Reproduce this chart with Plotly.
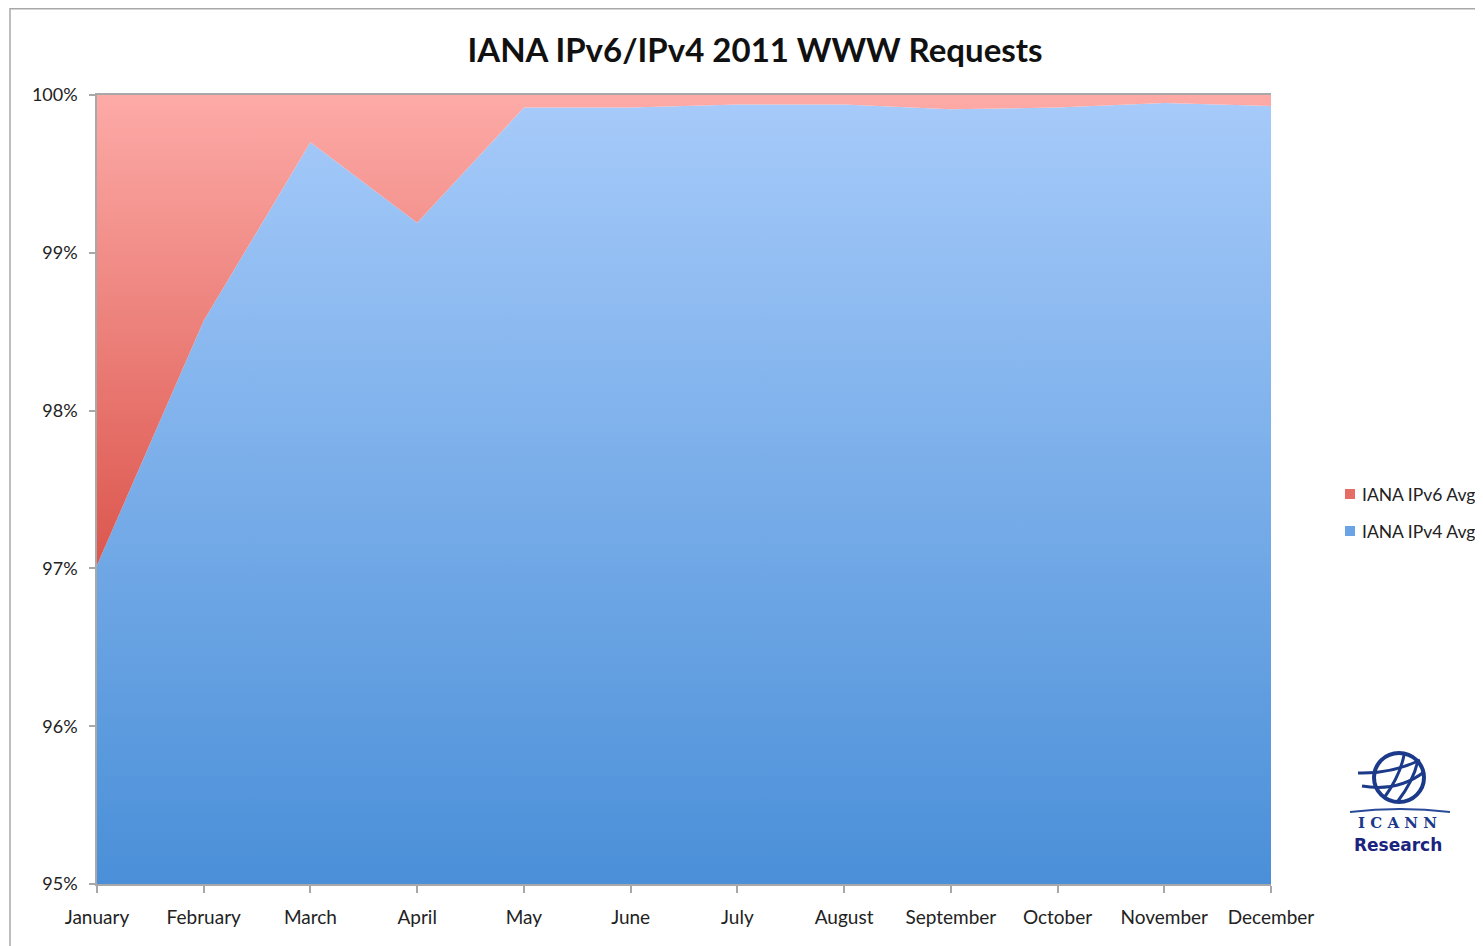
import plotly.graph_objects as go

months = ["January", "February", "March", "April", "May", "June", "July",
          "August", "September", "October", "November", "December"]
ipv4_avg = [97.02, 98.57, 99.70, 99.19, 99.92, 99.92, 99.94, 99.94, 99.91, 99.92, 99.95, 99.93]
ipv6_avg = [round(100 - v, 2) for v in ipv4_avg]
y_ticks = [95, 96, 97, 98, 99, 100]
y_tick_labels = ["95%", "96%", "97%", "98%", "99%", "100%"]
legend_names = ["IANA IPv6 Avg", "IANA IPv4 Avg"]
legend_colors = ["#e56d66", "#6aa3e6"]

FONT = "Lato"
BLUE_SCALE = [[0, "#4a8fd8"], [1, "#a7cbfa"]]
RED_SCALE = [[0, "#db564d"], [1, "#fdaaa7"]]

fig = go.Figure()
fig.add_trace(go.Scatter(
    x=months, y=ipv4_avg, name="IANA IPv4 Avg", mode="none",
    stackgroup="one", showlegend=False,
    fillgradient=dict(type="vertical", start=95, stop=100, colorscale=BLUE_SCALE),
    fillcolor="#6fa3e3",
))
fig.add_trace(go.Scatter(
    x=months, y=ipv6_avg, name="IANA IPv6 Avg", mode="none",
    stackgroup="one", showlegend=False,
    fillgradient=dict(type="vertical", start=97, stop=100, colorscale=RED_SCALE),
    fillcolor="#e87a74",
))

# Page is offset by the browser's 8px body margin
OFF = 8
W, H = 1483 - OFF, 946 - OFF
L, R, T, B = 97 - OFF, 212, 95 - OFF, 62
pw, ph = W - L - R, H - T - B


def px(x):  # reference screen x -> paper
    return (x - OFF - L) / pw


def py(y):  # reference screen y -> paper
    return (H - B - (y - OFF)) / ph


shapes = [
    dict(type="rect", xref="paper", yref="paper",
         x0=px(10), x1=px(1500), y0=py(970), y1=py(8.8),
         line=dict(color="#a8a8a8", width=1.5), fillcolor="rgba(0,0,0,0)", layer="below"),
]
annotations = []

# legend (swatches + labels)
for i, (name, col) in enumerate(zip(legend_names, legend_colors)):
    cy = 494 + 37 * i
    shapes.append(dict(type="rect", xref="paper", yref="paper",
                       x0=px(1345), x1=px(1355), y0=py(cy + 5), y1=py(cy - 5),
                       line=dict(width=0), fillcolor=col))
    annotations.append(dict(text=name, xref="paper", yref="paper", x=px(1360), y=py(cy),
                            showarrow=False, xanchor="left", yanchor="middle",
                            font=dict(family=FONT, size=17.5, color="#222222")))

# ICANN logo (globe)
navy = "#1c3a8a"
shapes.append(dict(type="circle", xref="paper", yref="paper",
                   x0=px(1374), x1=px(1424), y0=py(802), y1=py(753),
                   line=dict(color=navy, width=4)))
shapes.append(dict(type="path", xref="paper", yref="paper",
                   path=f"M {px(1384)},{py(798)} Q {px(1400)},{py(776)} {px(1404)},{py(755)}",
                   line=dict(color=navy, width=3)))
shapes.append(dict(type="path", xref="paper", yref="paper",
                   path=f"M {px(1398)},{py(801)} Q {px(1414)},{py(780)} {px(1418)},{py(760)}",
                   line=dict(color=navy, width=3)))
shapes.append(dict(type="path", xref="paper", yref="paper",
                   path=f"M {px(1362)},{py(786)} Q {px(1398)},{py(792)} {px(1424)},{py(772)}",
                   line=dict(color=navy, width=3)))
shapes.append(dict(type="path", xref="paper", yref="paper",
                   path=f"M {px(1358)},{py(773)} Q {px(1392)},{py(774)} {px(1420)},{py(760)}",
                   line=dict(color=navy, width=3)))
shapes.append(dict(type="path", xref="paper", yref="paper",
                   path=f"M {px(1350)},{py(812)} Q {px(1400)},{py(806)} {px(1450)},{py(812)}",
                   line=dict(color="#2a4a9a", width=2)))

annotations += [
    dict(text="<b>I C A N N</b>", xref="paper", yref="paper", x=px(1397), y=py(823),
         showarrow=False, font=dict(family="DejaVu Serif", size=15, color=navy),
         xanchor="center", yanchor="middle"),
    dict(text="<b>Research</b>", xref="paper", yref="paper", x=px(1398), y=py(845),
         showarrow=False, font=dict(family="DejaVu Sans", size=17, color="#1a237e"),
         xanchor="center", yanchor="middle"),
]

fig.update_layout(
    width=W, height=H,
    margin=dict(l=L, r=R, t=T, b=B),
    paper_bgcolor="white", plot_bgcolor="white",
    title=dict(text="<b>IANA IPv6/IPv4 2011 WWW Requests</b>",
               x=(755 - OFF) / W, xanchor="center",
               y=1 - (50 - OFF) / H, yanchor="middle",
               font=dict(family=FONT, size=33, color="#111111")),
    font=dict(family=FONT, size=18, color="#222222"),
    showlegend=False,
    shapes=shapes,
    annotations=annotations,
    hovermode=False,
)
fig.update_xaxes(
    type="category", range=[0, len(months) - 1],
    showline=True, linecolor="#a8a8a8", linewidth=1.5, mirror=True,
    ticks="outside", ticklen=7, tickcolor="#a8a8a8", tickwidth=1.5,
    showgrid=False, zeroline=False, tickfont=dict(size=19), ticklabelstandoff=8,
)
fig.update_yaxes(
    range=[95, 100], tickvals=y_ticks, ticktext=y_tick_labels,
    showline=True, linecolor="#a8a8a8", linewidth=1.5,
    ticks="outside", ticklen=6, tickcolor="#a8a8a8", tickwidth=1.5,
    showgrid=False, zeroline=False, tickfont=dict(size=18), ticklabelstandoff=8,
)

fig.write_html("out.html")
